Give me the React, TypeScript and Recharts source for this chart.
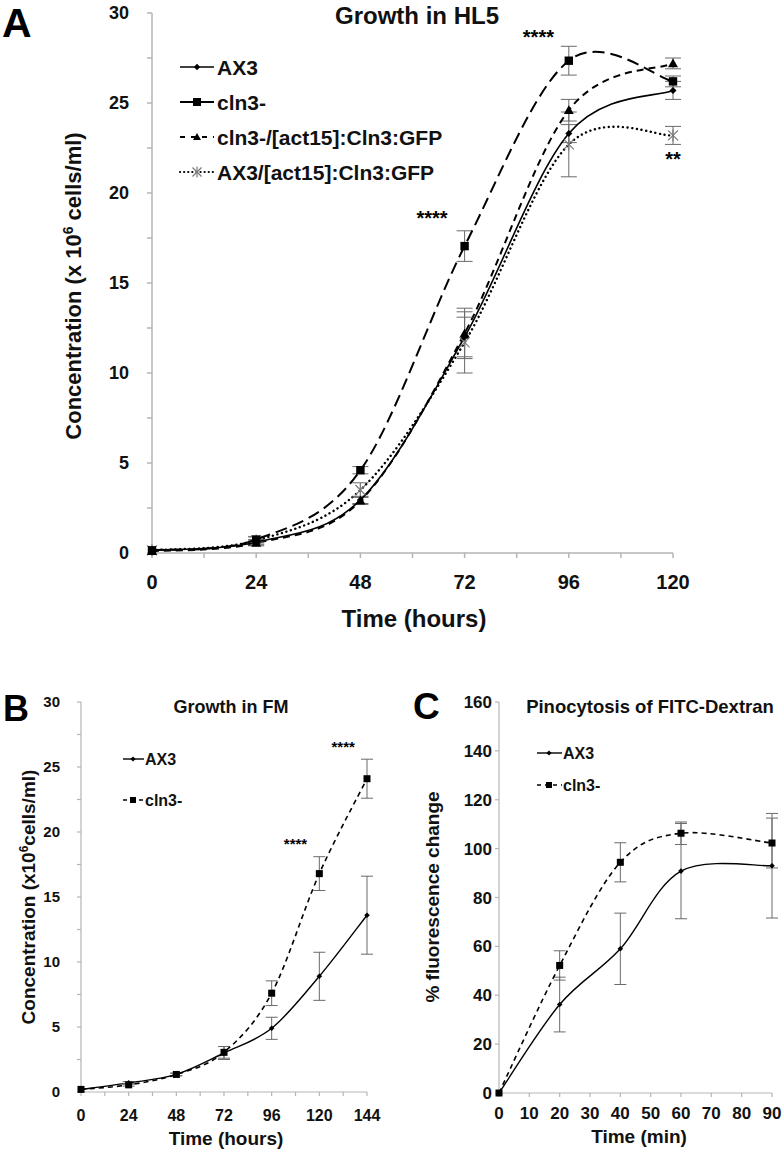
import React from 'react';
import { LineChart, Line, XAxis, YAxis, ErrorBar, ReferenceDot } from 'recharts';

const FONT = '"Liberation Sans", Arial, Helvetica, sans-serif';
const AXIS = '#b5b5b5';
const ERR = '#6a6a6a';

// ---------- Panel A: Growth in HL5 ----------
const hoursA = [0, 24, 48, 72, 96, 120];
const ax3A = [0.15, 0.6, 2.95, 12.0, 23.3, 25.7];
const ax3ErrA = [null, 0.15, 0.2, 1.1, 0.5, 0.5];
const cln3A = [0.15, 0.75, 4.6, 17.05, 27.35, 26.2];
const cln3ErrA = [null, 0.15, 0.2, 0.85, 0.8, 0.3];
const cln3GfpA = [0.1, 0.55, 2.9, 12.2, 24.6, 27.2];
const cln3GfpErrA = [null, 0.15, 0.2, 1.4, 0.6, 0.3];
const ax3GfpA = [0.15, 0.7, 3.5, 11.7, 22.7, 23.2];
const ax3GfpErrA = [null, 0.2, 0.4, 1.7, 1.8, 0.5];
const xTicksA = [0, 12, 24, 36, 48, 60, 72, 84, 96, 108, 120];
const yTicksA = [0, 2.5, 5, 7.5, 10, 12.5, 15, 17.5, 20, 22.5, 25, 27.5, 30];
const starsA = [
  { x: 89, y: 28.7, text: '****' },
  { x: 64.5, y: 18.6, text: '****' },
  { x: 120, y: 21.9, text: '**' },
];

// ---------- Panel B: Growth in FM ----------
const hoursB = [0, 24, 48, 72, 96, 120, 144];
const ax3B = [0.2, 0.7, 1.35, 3.0, 4.9, 8.9, 13.6];
const ax3ErrB = [null, 0.1, 0.1, 0.5, 0.85, 1.85, 3.0];
const cln3B = [0.2, 0.55, 1.35, 3.05, 7.6, 16.8, 24.1];
const cln3ErrB = [null, 0.1, 0.1, 0.45, 0.95, 1.3, 1.5];
const xTicksB = [0, 12, 24, 36, 48, 60, 72, 84, 96, 108, 120, 132, 144];
const yTicksB = [0, 2.5, 5, 7.5, 10, 12.5, 15, 17.5, 20, 22.5, 25, 27.5, 30];
const starsB = [
  { x: 132, y: 26.6, text: '****' },
  { x: 108, y: 19.1, text: '****' },
];

// ---------- Panel C: Pinocytosis of FITC-Dextran ----------
const minutesC = [0, 20, 40, 60, 90];
const ax3C = [0, 36.2, 59.0, 90.8, 93.0];
const ax3ErrC = [null, 11.2, 14.6, 19.5, 21.4];
const cln3C = [0, 52.2, 94.4, 106.3, 102.3];
const cln3ErrC = [null, 6.0, 8.0, 4.6, 10.2];
const xTicksC = [0, 10, 20, 30, 40, 50, 60, 70, 80, 90];
const yTicksC = [0, 20, 40, 60, 80, 100, 120, 140, 160];

const dataA = hoursA.map((h, i) => ({
  h,
  ax3: ax3A[i], ax3Err: ax3ErrA[i] ?? undefined,
  cln3: cln3A[i], cln3Err: cln3ErrA[i] ?? undefined,
  cln3Gfp: cln3GfpA[i], cln3GfpErr: cln3GfpErrA[i] ?? undefined,
  ax3Gfp: ax3GfpA[i], ax3GfpErr: ax3GfpErrA[i] ?? undefined,
}));
const dataB = hoursB.map((h, i) => ({
  h,
  ax3: ax3B[i], ax3Err: ax3ErrB[i] ?? undefined,
  cln3: cln3B[i], cln3Err: cln3ErrB[i] ?? undefined,
}));
const dataC = minutesC.map((m, i) => ({
  m,
  ax3: ax3C[i], ax3Err: ax3ErrC[i] ?? undefined,
  cln3: cln3C[i], cln3Err: cln3ErrC[i] ?? undefined,
}));

// Excel-like smoothed line (Catmull-Rom through the points)
const smoothCurve: any = (context: any) => {
  let pts: number[][] = [];
  return {
    areaStart() {},
    areaEnd() {},
    lineStart() { pts = []; },
    point(x: number, y: number) { pts.push([+x, +y]); },
    lineEnd() {
      const n = pts.length;
      if (!n) return;
      context.moveTo(pts[0][0], pts[0][1]);
      for (let i = 0; i < n - 1; i++) {
        const p0 = pts[i - 1] || pts[i];
        const p1 = pts[i];
        const p2 = pts[i + 1];
        const p3 = pts[i + 2] || pts[i + 1];
        context.bezierCurveTo(
          p1[0] + (p2[0] - p0[0]) / 6, p1[1] + (p2[1] - p0[1]) / 6,
          p2[0] - (p3[0] - p1[0]) / 6, p2[1] - (p3[1] - p1[1]) / 6,
          p2[0], p2[1]
        );
      }
    },
  };
};

// ---------- markers ----------
const Diamond = ({ cx, cy, s = 3.5 }: any) => (
  <polygon points={`${cx},${cy - s} ${cx + s},${cy} ${cx},${cy + s} ${cx - s},${cy}`} fill="#000" />
);
const Square = ({ cx, cy, s = 4 }: any) => (
  <rect x={cx - s} y={cy - s} width={2 * s} height={2 * s} fill="#000" />
);
const Triangle = ({ cx, cy, s = 5 }: any) => (
  <polygon points={`${cx},${cy - s} ${cx + s},${cy + s * 0.75} ${cx - s},${cy + s * 0.75}`} fill="#000" />
);
const StarX = ({ cx, cy, s = 5 }: any) => (
  <g stroke="#7a7a7a" strokeWidth={1.2} fill="none">
    <line x1={cx - s} y1={cy - s} x2={cx + s} y2={cy + s} />
    <line x1={cx - s} y1={cy + s} x2={cx + s} y2={cy - s} />
    <line x1={cx} y1={cy - s * 1.2} x2={cx} y2={cy + s * 1.2} />
  </g>
);
const dotOf = (Comp: any, s: number, tag: string) => (p: any) => (
  <Comp key={`${tag}-${p.index}`} cx={p.cx} cy={p.cy} s={s} />
);

const tickStyle = (fs: number) => ({ fontSize: fs, fontWeight: 700, fill: '#111', fontFamily: FONT });
const every = (n: number) => (v: number) => (v % n === 0 ? String(v) : '');

const starLabel = (text: string, fs: number) => ({
  value: text,
  position: 'center' as const,
  fill: '#000',
  fontSize: fs,
  fontWeight: 700,
  fontFamily: FONT,
});

const ChartA = () => (
  <LineChart width={784} height={650} data={dataA} margin={{ top: 13, right: 111, bottom: 0, left: 0 }}>
    <XAxis dataKey="h" type="number" domain={[0, 120]} ticks={xTicksA} tickFormatter={every(24)}
      height={97} stroke={AXIS} strokeWidth={1.5} tickSize={5} tickMargin={17} tick={tickStyle(20)} />
    <YAxis type="number" domain={[0, 30]} ticks={yTicksA} tickFormatter={every(5)} width={152}
      stroke={AXIS} strokeWidth={1.5} tickSize={5} tickMargin={18} tick={tickStyle(18)} />
    <Line dataKey="ax3Gfp" type={smoothCurve} stroke="#000" strokeWidth={2.4} strokeDasharray="0.1 4.6"
      strokeLinecap="round" dot={dotOf(StarX, 5, 'a4')} isAnimationActive={false}>
      <ErrorBar dataKey="ax3GfpErr" width={8} stroke={ERR} strokeWidth={1} direction="y" />
    </Line>
    <Line dataKey="cln3Gfp" type={smoothCurve} stroke="#000" strokeWidth={2} strokeDasharray="7 5"
      dot={dotOf(Triangle, 5, 'a3')} isAnimationActive={false}>
      <ErrorBar dataKey="cln3GfpErr" width={8} stroke={ERR} strokeWidth={1} direction="y" />
    </Line>
    <Line dataKey="ax3" type={smoothCurve} stroke="#000" strokeWidth={1.6}
      dot={dotOf(Diamond, 3.5, 'a1')} isAnimationActive={false}>
      <ErrorBar dataKey="ax3Err" width={8} stroke={ERR} strokeWidth={1} direction="y" />
    </Line>
    <Line dataKey="cln3" type={smoothCurve} stroke="#000" strokeWidth={2} strokeDasharray="12 6"
      dot={dotOf(Square, 4.2, 'a2')} isAnimationActive={false}>
      <ErrorBar dataKey="cln3Err" width={8} stroke={ERR} strokeWidth={1} direction="y" />
    </Line>
    {starsA.map((s, i) => (
      <ReferenceDot key={`sa${i}`} x={s.x} y={s.y} r={1} fill="none" stroke="none" label={starLabel(s.text, 20)} />
    ))}
  </LineChart>
);

const ChartB = () => (
  <LineChart width={392} height={494} data={dataB} margin={{ top: 42, right: 25, bottom: 0, left: 0 }}>
    <XAxis dataKey="h" type="number" domain={[0, 144]} ticks={xTicksB} tickFormatter={every(24)}
      height={62} stroke={AXIS} strokeWidth={1.2} tickSize={4} tickMargin={14} tick={tickStyle(16)} />
    <YAxis type="number" domain={[0, 30]} ticks={yTicksB} tickFormatter={every(5)} width={81}
      stroke={AXIS} strokeWidth={1.2} tickSize={4} tickMargin={17} tick={tickStyle(15)} />
    <Line dataKey="ax3" type={smoothCurve} stroke="#000" strokeWidth={1.4}
      dot={dotOf(Diamond, 2.8, 'b1')} isAnimationActive={false}>
      <ErrorBar dataKey="ax3Err" width={6} stroke={ERR} strokeWidth={1} direction="y" />
    </Line>
    <Line dataKey="cln3" type={smoothCurve} stroke="#000" strokeWidth={1.6} strokeDasharray="5 4"
      dot={dotOf(Square, 3.5, 'b2')} isAnimationActive={false}>
      <ErrorBar dataKey="cln3Err" width={6} stroke={ERR} strokeWidth={1} direction="y" />
    </Line>
    {starsB.map((s, i) => (
      <ReferenceDot key={`sb${i}`} x={s.x} y={s.y} r={1} fill="none" stroke="none" label={starLabel(s.text, 15)} />
    ))}
  </LineChart>
);

const ChartC = () => (
  <LineChart width={392} height={494} data={dataC} margin={{ top: 42, right: 12, bottom: 0, left: 0 }}>
    <XAxis dataKey="m" type="number" domain={[0, 90]} ticks={xTicksC}
      height={61} stroke={AXIS} strokeWidth={1.2} tickSize={4} tickMargin={10} tick={tickStyle(17)} />
    <YAxis type="number" domain={[0, 160]} ticks={yTicksC} width={107}
      stroke={AXIS} strokeWidth={1.2} tickSize={4} tickMargin={3} tick={tickStyle(17)} />
    <Line dataKey="ax3" type={smoothCurve} stroke="#000" strokeWidth={1.4}
      dot={dotOf(Diamond, 2.8, 'c1')} isAnimationActive={false}>
      <ErrorBar dataKey="ax3Err" width={6} stroke={ERR} strokeWidth={1} direction="y" />
    </Line>
    <Line dataKey="cln3" type={smoothCurve} stroke="#000" strokeWidth={1.6} strokeDasharray="5 4"
      dot={dotOf(Square, 3.5, 'c2')} isAnimationActive={false}>
      <ErrorBar dataKey="cln3Err" width={6} stroke={ERR} strokeWidth={1} direction="y" />
    </Line>
  </LineChart>
);

// legend item drawn in overlay svg
const LegendRow = ({ x1, x2, y, tx, fs, label, dash, width, cap, marker }: any) => (
  <g>
    <line x1={x1} y1={y} x2={x2} y2={y} stroke="#000" strokeWidth={width} strokeDasharray={dash}
      strokeLinecap={cap || 'butt'} />
    {marker}
    <text x={tx} y={y + fs * 0.36} fontSize={fs} fontWeight={700} fontFamily={FONT} fill="#111">{label}</text>
  </g>
);

const Overlay = () => (
  <svg width={784} height={1154} style={{ position: 'absolute', left: 0, top: 0, pointerEvents: 'none' }}>
    {/* Panel A */}
    <text x={2} y={37} fontSize={41} fontWeight={700} fontFamily={FONT} fill="#000">A</text>
    <text x={417} y={24} fontSize={24} fontWeight={700} fontFamily={FONT} fill="#111" textAnchor="middle">Growth in HL5</text>
    <text transform="translate(81,286) rotate(-90)" fontSize={22} fontWeight={700} fontFamily={FONT} fill="#111" textAnchor="middle">
      Concentration (x 10<tspan fontSize={14} dy={-8}>6</tspan><tspan dy={8}> cells/ml)</tspan>
    </text>
    <text x={414} y={627} fontSize={24} fontWeight={700} fontFamily={FONT} fill="#111" textAnchor="middle">Time (hours)</text>
    <LegendRow x1={180} x2={214} y={67} tx={217} fs={21} label="AX3" width={1.6}
      marker={<Diamond cx={197} cy={67} s={3.2} />} />
    <LegendRow x1={180} x2={214} y={102} tx={217} fs={21} label="cln3-" width={2}
      marker={<Square cx={197} cy={102} s={4} />} />
    <LegendRow x1={180} x2={214} y={137} tx={217} fs={21} label="cln3-/[act15]:Cln3:GFP" width={2} dash="5 6"
      marker={<Triangle cx={197} cy={137} s={4} />} />
    <LegendRow x1={180} x2={214} y={172} tx={217} fs={21} label="AX3/[act15]:Cln3:GFP" width={2.2} dash="0.1 4" cap="round"
      marker={<StarX cx={197} cy={172} s={4.5} />} />

    {/* Panel B */}
    <text x={3} y={721} fontSize={36} fontWeight={700} fontFamily={FONT} fill="#000">B</text>
    <text x={231} y={713} fontSize={18} fontWeight={700} fontFamily={FONT} fill="#111" textAnchor="middle">Growth in FM</text>
    <text transform="translate(35,897) rotate(-90)" fontSize={19} fontWeight={700} fontFamily={FONT} fill="#111" textAnchor="middle">
      Concentration (x10<tspan fontSize={12} dy={-7}>6</tspan><tspan dy={7}>cells/ml)</tspan>
    </text>
    <text x={226} y={1145} fontSize={19} fontWeight={700} fontFamily={FONT} fill="#111" textAnchor="middle">Time (hours)</text>
    <LegendRow x1={123} x2={144} y={759} tx={145} fs={16} label="AX3" width={1.4}
      marker={<Diamond cx={133} cy={759} s={2.6} />} />
    <LegendRow x1={123} x2={144} y={800} tx={145} fs={16} label="cln3-" width={1.5} dash="4 4"
      marker={<Square cx={133} cy={800} s={3} />} />

    {/* Panel C */}
    <text x={413} y={719} fontSize={37} fontWeight={700} fontFamily={FONT} fill="#000">C</text>
    <text x={650} y={713} fontSize={18.5} fontWeight={700} fontFamily={FONT} fill="#111" textAnchor="middle">Pinocytosis of FITC-Dextran</text>
    <text transform="translate(439,897) rotate(-90)" fontSize={19} fontWeight={700} fontFamily={FONT} fill="#111" textAnchor="middle">% fluorescence change</text>
    <text x={639} y={1143} fontSize={19} fontWeight={700} fontFamily={FONT} fill="#111" textAnchor="middle">Time (min)</text>
    <LegendRow x1={537} x2={562} y={753} tx={563} fs={16} label="AX3" width={1.4}
      marker={<Diamond cx={549} cy={753} s={2.6} />} />
    <LegendRow x1={537} x2={562} y={785} tx={563} fs={16} label="cln3-" width={1.5} dash="4 4"
      marker={<Square cx={549} cy={785} s={3} />} />
  </svg>
);

export default function App() {
  return (
    <div style={{ position: 'absolute', left: 0, top: 0, width: 784, height: 1154, background: '#fff', fontFamily: FONT }}>
      <div style={{ position: 'absolute', left: 0, top: 0 }}><ChartA /></div>
      <div style={{ position: 'absolute', left: 0, top: 660 }}><ChartB /></div>
      <div style={{ position: 'absolute', left: 392, top: 660 }}><ChartC /></div>
      <Overlay />
    </div>
  );
}
